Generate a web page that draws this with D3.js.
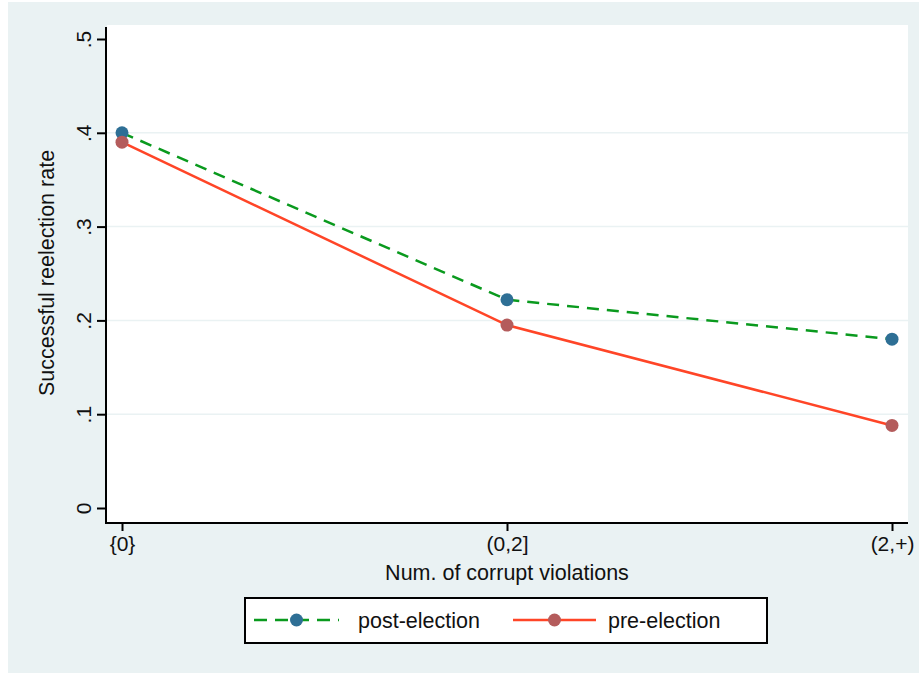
<!DOCTYPE html>
<html>
<head>
<meta charset="UTF-8">
<script src="https://d3js.org/d3.v7.min.js"></script>
<style>
  body { margin: 0; background: #fff; }
  text { font-family: "Liberation Sans", Arial, sans-serif; fill: #111; }
</style>
</head>
<body>
<div id="chart"></div>
<script>
const categories = ['{0}', '(0,2]', '(2,+)']
const postElection = [0.400, 0.222, 0.180]
const preElection = [0.390, 0.195, 0.088]
const yTicks = [0, 0.1, 0.2, 0.3, 0.4, 0.5]
const yTickLabels = ['0', '.1', '.2', '.3', '.4', '.5']

const W = 919, H = 674
const svg = d3.select('#chart').append('svg').attr('width', W).attr('height', H)

// stata-ish background and plot region
svg.append('rect').attr('x', 8).attr('y', 2).attr('width', W - 8).attr('height', 671).attr('fill', '#eaf2f3')
const plot = { left: 107, right: 908, top: 25, bottom: 523 }
svg.append('rect').attr('x', plot.left).attr('y', plot.top)
  .attr('width', plot.right - plot.left).attr('height', plot.bottom - plot.top).attr('fill', '#fff')

const x = d3.scalePoint().domain(categories).range([122, 892])
const y = d3.scaleLinear().domain([0, 0.5]).range([508, 39])

// grid
svg.selectAll('.grid').data(yTicks.filter(d => d > 0 && d < 0.5)).enter().append('line')
  .attr('x1', plot.left).attr('x2', plot.right)
  .attr('y1', d => y(d)).attr('y2', d => y(d))
  .style('stroke', '#eaf2f3').style('stroke-width', 1.5)

// axes
const yAxis = d3.axisLeft(y).tickValues(yTicks).tickFormat((d, i) => yTickLabels[i]).tickSize(9).tickPadding(6)
const gy = svg.append('g').attr('transform', `translate(${plot.left - 1},0)`).call(yAxis)
gy.select('.domain').remove()
gy.append('line').attr('x1', 0).attr('x2', 0).attr('y1', plot.top + 2).attr('y2', plot.bottom + 1)
  .style('stroke', '#000').style('stroke-width', 2)
gy.selectAll('.tick line').style('stroke', '#000').style('stroke-width', 2)
gy.selectAll('.tick text')
  .attr('transform', 'rotate(-90)').attr('x', 0).attr('y', -22)
  .style('text-anchor', 'middle').style('font-size', '21px').style('fill', '#111')

const xAxis = d3.axisBottom(x).tickSize(8).tickPadding(5)
const gx = svg.append('g').attr('transform', `translate(0,${plot.bottom})`).call(xAxis)
gx.select('.domain').remove()
gx.append('line').attr('x1', plot.left - 2).attr('x2', plot.right).attr('y1', 0).attr('y2', 0)
  .style('stroke', '#000').style('stroke-width', 2)
gx.selectAll('.tick line').style('stroke', '#000').style('stroke-width', 2)
gx.selectAll('.tick text').style('font-size', '21px').style('fill', '#111')

// titles
svg.append('text').attr('x', 507).attr('y', 580).style('text-anchor', 'middle').style('font-size', '21.5px')
  .text('Num. of corrupt violations')
svg.append('text').attr('transform', 'translate(54,273) rotate(-90)').style('text-anchor', 'middle').style('font-size', '21.5px')
  .text('Successful reelection rate')

// series
const series = [
  { name: 'post-election', values: postElection, line: '#0a9a1e', dash: '12,8', marker: '#2e6f95' },
  { name: 'pre-election', values: preElection, line: '#ff4527', dash: null, marker: '#b45c5c' }
]
const lineGen = d3.line().x((d, i) => x(categories[i])).y(d => y(d))
series.forEach(s => {
  svg.append('path').datum(s.values).attr('d', lineGen)
    .style('fill', 'none').style('stroke', s.line).style('stroke-width', 2.5)
    .style('stroke-dasharray', s.dash)
})
series.forEach(s => {
  svg.selectAll(null).data(s.values).enter().append('circle')
    .attr('cx', (d, i) => x(categories[i])).attr('cy', d => y(d)).attr('r', 6.5)
    .style('fill', s.marker)
})

// legend
const lg = svg.append('g')
lg.append('rect').attr('x', 245).attr('y', 598).attr('width', 522).attr('height', 45)
  .style('fill', '#fff').style('stroke', '#000').style('stroke-width', 2)
const legendPos = [{ x0: 254, x1: 339, tx: 358 }, { x0: 513, x1: 596, tx: 608 }]
series.forEach((s, i) => {
  const p = legendPos[i]
  lg.append('line').attr('x1', p.x0).attr('x2', p.x1).attr('y1', 620).attr('y2', 620)
    .style('stroke', s.line).style('stroke-width', 2.5).style('stroke-dasharray', s.dash ? '13,8' : null)
  lg.append('circle').attr('cx', (p.x0 + p.x1) / 2).attr('cy', 620).attr('r', 6.5).style('fill', s.marker)
  lg.append('text').attr('x', p.tx).attr('y', 628).style('font-size', '21.5px').text(s.name)
})
</script>
</body>
</html>
